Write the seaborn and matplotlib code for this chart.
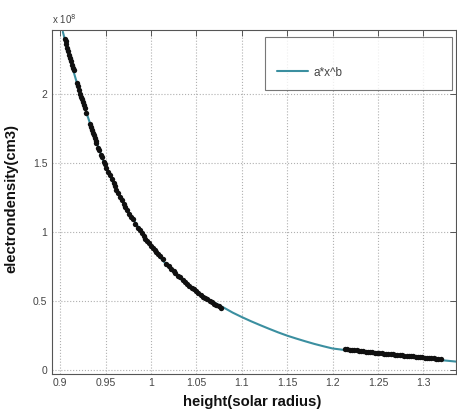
import numpy as np
import pandas as pd
import seaborn as sns
import matplotlib
matplotlib.use("Agg")
import matplotlib.pyplot as plt

# ---- data (density in units of 1e8 cm^-3) ----
data_height = [0.905, 0.906, 0.907, 0.908, 0.909, 0.910, 0.911, 0.912, 0.913, 0.914, 0.915,
               0.919, 0.920, 0.921, 0.922, 0.923, 0.924, 0.925, 0.926, 0.927, 0.929,
               0.933, 0.934, 0.935, 0.936, 0.937, 0.938, 0.939, 0.940, 0.942, 0.943,
               0.945, 0.946, 0.948, 0.949, 0.951, 0.953, 0.955, 0.957, 0.959, 0.960,
               0.962, 0.964, 0.966, 0.968, 0.970, 0.972, 0.974, 0.976, 0.978, 0.980,
               0.983, 0.986, 0.988, 0.990, 0.992, 0.994, 0.996, 0.998, 1.000, 1.002,
               1.004, 1.006, 1.008, 1.010, 1.013, 1.017, 1.020, 1.022, 1.025, 1.027,
               1.030, 1.032, 1.035, 1.037, 1.040, 1.042, 1.045, 1.047, 1.050, 1.052,
               1.055, 1.057, 1.060, 1.062, 1.065, 1.067, 1.070, 1.072, 1.075, 1.077,
               1.214, 1.2165, 1.219, 1.2215, 1.224, 1.2265, 1.229, 1.2315, 1.234, 1.2365,
               1.239, 1.2415, 1.244, 1.2465, 1.249, 1.2515, 1.254, 1.2565, 1.259, 1.2615,
               1.264, 1.2665, 1.269, 1.2715, 1.274, 1.2765, 1.279, 1.2815, 1.284, 1.2865,
               1.289, 1.2915, 1.294, 1.2965, 1.299, 1.3015, 1.304, 1.3065, 1.309, 1.3115,
               1.314, 1.3165, 1.319]
data_density = [2.40, 2.38, 2.36, 2.335, 2.31, 2.285, 2.26, 2.235, 2.21, 2.19, 2.17,
                2.08, 2.055, 2.03, 2.00, 1.98, 1.96, 1.94, 1.92, 1.90, 1.86,
                1.78, 1.76, 1.74, 1.72, 1.70, 1.68, 1.66, 1.645, 1.61, 1.595,
                1.56, 1.545, 1.51, 1.495, 1.46, 1.435, 1.41, 1.38, 1.355, 1.33,
                1.305, 1.28, 1.255, 1.23, 1.205, 1.18, 1.155, 1.13, 1.11, 1.09,
                1.06, 1.03, 1.01, 0.99, 0.97, 0.95, 0.935, 0.92, 0.90, 0.885,
                0.87, 0.855, 0.84, 0.825, 0.80, 0.77, 0.75, 0.73, 0.715, 0.70,
                0.68, 0.67, 0.65, 0.64, 0.62, 0.61, 0.595, 0.585, 0.57, 0.555,
                0.54, 0.53, 0.52, 0.51, 0.50, 0.49, 0.48, 0.47, 0.46, 0.45,
                0.151, 0.149, 0.147, 0.145, 0.143, 0.141, 0.139, 0.137, 0.135, 0.133,
                0.131, 0.129, 0.127, 0.1255, 0.124, 0.122, 0.120, 0.1185, 0.117, 0.1155,
                0.114, 0.112, 0.110, 0.1085, 0.107, 0.1055, 0.104, 0.1025, 0.101, 0.099,
                0.097, 0.0955, 0.094, 0.0925, 0.091, 0.0895, 0.088, 0.0865, 0.085, 0.0835,
                0.082, 0.0805, 0.079]

fit_height = [0.903, 0.910, 0.922, 0.935, 0.9477, 0.960, 0.975, 0.990,
              1.000, 1.010, 1.020, 1.035, 1.050, 1.060, 1.070, 1.080,
              1.090, 1.100, 1.110, 1.120, 1.130, 1.140, 1.150, 1.160,
              1.170, 1.180, 1.190, 1.200, 1.225, 1.250, 1.275, 1.300, 1.336]
fit_density = [2.45, 2.27, 2.00, 1.746, 1.51, 1.332, 1.146, 0.995,
               0.897, 0.815, 0.740, 0.645, 0.565, 0.524, 0.487, 0.452,
               0.415, 0.383, 0.353, 0.325, 0.298, 0.272, 0.248, 0.227,
               0.207, 0.188, 0.171, 0.155, 0.134, 0.116, 0.099, 0.083, 0.060]

x_ticks = [0.9, 0.95, 1.0, 1.05, 1.1, 1.15, 1.2, 1.25, 1.3]
x_tick_labels = ["0.9", "0.95", "1", "1.05", "1.1", "1.15", "1.2", "1.25", "1.3"]
y_ticks = [0, 0.5, 1, 1.5, 2]
y_tick_labels = ["0", "0.5", "1", "1.5", "2"]

sns.set_theme(style="white")
plt.rcParams['font.family'] = ['Liberation Sans', 'DejaVu Sans']

fig = plt.figure(figsize=(4.57, 4.15), dpi=100)
ax = fig.add_axes([51.5 / 457, 41 / 415, 404.5 / 457, 344 / 415])

fit_df = pd.DataFrame({"height": fit_height, "density": fit_density})
data_df = pd.DataFrame({"height": data_height, "density": data_density})

sns.lineplot(data=fit_df, x="height", y="density", ax=ax, color="#3b8fa0",
             linewidth=1.5, label="a*x^b", zorder=2, sort=True)
sns.scatterplot(data=data_df, x="height", y="density", ax=ax, color="#101010",
                s=15, linewidth=0, zorder=3, legend=False)

ax.set_xlim(0.8905, 1.336)
ax.set_ylim(-0.03, 2.463)
ax.set_xticks(x_ticks)
ax.set_xticklabels(x_tick_labels)
ax.set_yticks(y_ticks)
ax.set_yticklabels(y_tick_labels)

ax.grid(True, linestyle=":", color="#b0b0b0", linewidth=0.8)
ax.tick_params(direction="in", length=4, width=0.7, top=True, right=True,
               labelsize=7.5, labelcolor="#444444", color="#555555", pad=3)
for s in ax.spines.values():
    s.set_color("#555555")
    s.set_linewidth(0.8)

ax.set_xlabel("height(solar radius)", fontsize=10.7, color="#111111",
              fontweight="bold")
ax.set_ylabel("electrondensity(cm3)", fontsize=10.7, color="#111111",
              fontweight="bold")
ax.xaxis.set_label_coords(0.497, -0.062)
ax.yaxis.set_label_coords(-0.082, 0.509)

ax.text(0.0, 1.012, "x 10$^{8}$", transform=ax.transAxes, fontsize=7,
        color="#444444", ha="left", va="bottom")

leg = ax.legend(loc="upper left", bbox_to_anchor=(0.528, 0.83, 0.462, 0.15),
                mode="expand", fontsize=8.5, frameon=True, fancybox=False,
                borderpad=1.0, borderaxespad=0.0, handlelength=2.6,
                handletextpad=0.5, title=" ", title_fontsize=9)
leg.get_frame().set_edgecolor("#555555")
leg.get_frame().set_linewidth(0.8)
for t in leg.get_texts():
    t.set_color("#444444")
leg._legend_box.align = "left"

fig.savefig("out.png", dpi=100)
